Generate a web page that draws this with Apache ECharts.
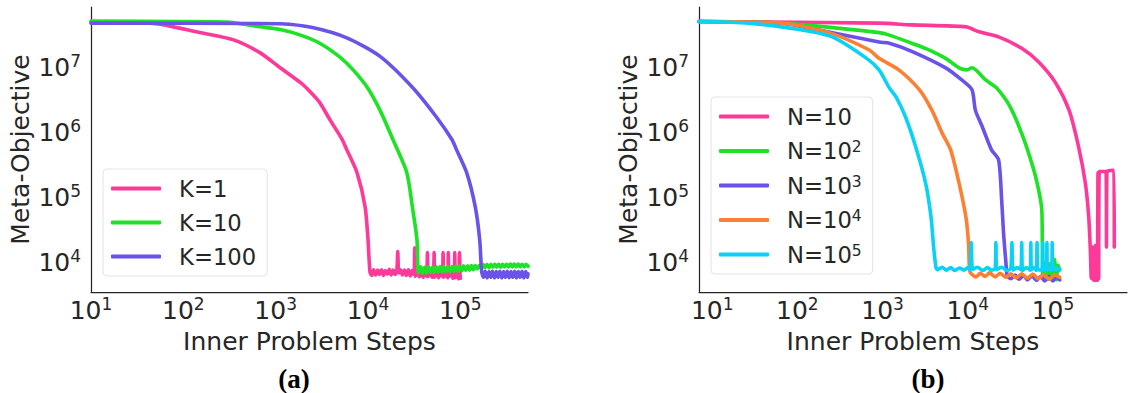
<!DOCTYPE html>
<html>
<head>
<meta charset="utf-8">
<script src="https://cdn.jsdelivr.net/npm/echarts@6/dist/echarts.min.js"></script>
<style>
html, body { margin: 0; padding: 0; background: #fff; }
#chart { width: 1130px; height: 393px; }
</style>
</head>
<body>
<div id="chart"></div>
<script>
// (a) meta-objective vs inner steps, unroll length K
var kNames = ['K=1', 'K=10', 'K=100'];
var kOne = [[10, 5.0e7], [44, 4.9e7], [150, 3.5e7], [350, 2.7e7], [680, 1.7e7], [1120, 1.0e7], [1860, 5.9e6],
  [2350, 4.3e6], [3000, 2.9e6], [3900, 1.55e6], [5250, 7.8e5], [5900, 5.4e5], [7600, 2.4e5], [9300, 7.1e4],
  [10000, 2.2e4], [10500, 7.0e3], [11000, 6.2e3], [11500, 7.6e3], [12100, 6.3e3], [12700, 7.5e3], [13300, 6.4e3],
  [14000, 7.6e3], [14700, 6.2e3], [15400, 7.4e3], [16200, 6.5e3], [17000, 7.7e3], [17800, 6.3e3], [18700, 7.5e3],
  [19600, 6.4e3], [20500, 7.4e3], [21000, 1.45e4], [21500, 6.8e3], [22500, 7.6e3], [23600, 6.3e3], [24800, 7.5e3],
  [26000, 6.2e3], [27300, 7.6e3], [28700, 6.1e3], [30100, 7.4e3], [31500, 6.4e3], [32000, 1.65e4], [32600, 6.0e3],
  [34200, 7.4e3], [35900, 5.9e3], [37700, 7.3e3], [39600, 5.8e3], [41600, 7.3e3], [43200, 6.0e3], [44000, 1.4e4],
  [44800, 6.0e3], [47000, 7.2e3], [49400, 5.8e3], [51300, 7.0e3], [52000, 1.4e4], [52800, 5.8e3], [55400, 7.2e3],
  [58200, 5.7e3], [61000, 7.1e3], [64000, 6.0e3], [65000, 1.4e4], [66000, 5.8e3], [69300, 7.1e3], [72800, 5.7e3],
  [74000, 1.4e4], [75300, 6.0e3], [79000, 7.2e3], [83000, 5.6e3], [86000, 7.0e3], [87000, 1.4e4], [88000, 5.7e3],
  [92000, 7.0e3], [95500, 5.5e3], [98000, 1.4e4], [99000, 6.5e3], [100000, 5.6e3]];
var kTen = [[10, 5.3e7], [100, 5.2e7], [295, 5.1e7], [680, 4.3e7], [1120, 3.9e7], [1860, 3.2e7], [3000, 2.4e7],
  [5000, 1.45e7], [6900, 9.3e6], [9800, 5.0e6], [13500, 2.2e6], [18600, 7.8e5], [26300, 2.4e5], [30200, 7.1e4],
  [33900, 2.2e4], [34700, 7.6e3], [35500, 6.8e3], [37200, 8.4e3], [39000, 6.7e3], [41000, 8.3e3], [43000, 6.8e3],
  [45100, 8.4e3], [47400, 6.9e3], [49700, 8.3e3], [52200, 6.9e3], [54800, 8.4e3], [57500, 7.0e3], [60400, 8.5e3],
  [63400, 7.0e3], [66600, 8.4e3], [69900, 7.1e3], [73400, 8.5e3], [77100, 7.1e3], [81000, 8.5e3], [85000, 7.2e3],
  [89300, 8.6e3], [93700, 7.2e3], [98400, 8.6e3], [103000, 7.3e3], [108000, 8.7e3], [114000, 7.4e3], [120000, 8.7e3],
  [126000, 7.5e3], [132000, 8.8e3], [138000, 7.6e3], [145000, 8.8e3], [152000, 7.8e3], [160000, 8.9e3],
  [168000, 8.0e3], [176000, 9.1e3], [185000, 8.2e3], [194000, 9.1e3], [204000, 8.2e3], [214000, 9.2e3],
  [225000, 8.3e3], [236000, 9.2e3], [248000, 8.3e3], [260000, 9.2e3], [273000, 8.3e3], [287000, 9.2e3],
  [301000, 8.4e3], [316000, 9.2e3], [332000, 8.4e3], [349000, 9.3e3], [366000, 8.4e3], [384000, 9.3e3],
  [403000, 8.4e3], [423000, 9.3e3], [444000, 8.4e3], [466000, 9.2e3], [490000, 8.4e3], [514000, 9.2e3], [540000, 8.6e3]];
var kHundred = [[10, 4.9e7], [600, 4.85e7], [1120, 4.8e7], [2500, 4.2e7], [5900, 2.9e7], [13500, 1.5e7], [30200, 5.0e6],
  [55000, 1.74e6], [81000, 7.8e5], [91000, 5.4e5], [117000, 2.4e5], [145000, 7.1e4], [162000, 2.2e4], [170000, 7.1e3],
  [178000, 5.8e3], [186000, 7.2e3], [195000, 5.7e3], [204000, 7.1e3], [213000, 5.8e3], [223000, 7.2e3], [234000, 5.7e3],
  [245000, 7.1e3], [256000, 5.8e3], [268000, 7.2e3], [281000, 5.7e3], [294000, 7.1e3], [308000, 5.8e3], [322000, 7.2e3],
  [337000, 5.7e3], [353000, 7.1e3], [370000, 5.8e3], [387000, 7.2e3], [405000, 5.7e3], [424000, 7.1e3], [444000, 5.8e3],
  [465000, 7.2e3], [487000, 5.7e3], [510000, 7.1e3], [534000, 5.8e3], [540000, 6.6e3]];

// (b) meta-objective vs inner steps, number of samples N
var nNames = ['N=10', 'N=10^2', 'N=10^3', 'N=10^4', 'N=10^5'];
var nOne = [[7, 5.2e7], [910, 4.9e7], [2200, 4.6e7], [9500, 4.3e7], [13500, 3.6e7], [23000, 3.0e7], [43000, 2.0e7],
  [68000, 1.23e7], [107000, 5.9e6], [155000, 2.2e6], [200000, 6.0e5], [240000, 1.66e5], [263000, 5.0e4],
  [275000, 1.5e4], [282000, 5.6e3], [290000, 1.7e4], [296000, 5.3e3], [302000, 1.6e4], [308000, 5.2e3],
  [314000, 1.8e4], [320000, 5.3e3], [326000, 1.6e4], [332000, 5.2e3], [338000, 2.4e5], [344000, 5.5e3],
  [350000, 2.5e5], [420000, 2.5e5], [425000, 1.7e4], [430000, 2.5e5], [520000, 2.6e5], [525000, 1.7e4]];
var nTwo = [[7, 5.2e7], [66, 4.9e7], [910, 3.5e7], [1200, 3.2e7], [2200, 2.4e7], [3500, 1.9e7], [5500, 1.4e7],
  [7900, 1.0e7], [9800, 9.3e6], [11200, 1.0e7], [16200, 6.5e6], [21400, 5.0e6], [28000, 3.2e6], [33000, 2.2e6],
  [40000, 1.23e6], [49000, 6.0e5], [63000, 2.0e5], [74000, 6.3e4], [75000, 1.95e4], [76000, 5.9e3], [80000, 6.0e3],
  [84000, 1.05e4], [88000, 5.4e3], [93000, 9.5e3], [98000, 5.2e3], [104000, 1.1e4], [110000, 5.3e3],
  [115000, 9.0e3], [120000, 7.5e3]];
var nThree = [[7, 5.2e7], [66, 4.9e7], [166, 3.9e7], [910, 2.5e7], [1200, 2.4e7], [2200, 1.8e7], [5500, 1.0e7],
  [8500, 6.5e6], [11200, 4.6e6], [12300, 2.2e6], [14800, 1.23e6], [19000, 5.4e5], [23000, 3.8e5], [25000, 9.1e4],
  [26300, 2.8e4], [28000, 1.0e4], [29000, 6.2e3], [32000, 5.5e3], [36000, 6.3e3], [40000, 5.4e3], [45000, 6.2e3],
  [50000, 5.3e3], [57000, 6.1e3], [64000, 5.2e3], [72000, 6.0e3], [80000, 5.1e3], [90000, 6.0e3], [100000, 5.1e3],
  [110000, 5.9e3], [120000, 5.3e3]];
var nFour = [[7, 5.2e7], [66, 4.9e7], [235, 3.5e7], [690, 1.9e7], [910, 1.4e7], [1550, 9.3e6], [2700, 4.6e6],
  [3800, 2.2e6], [5000, 9.8e5], [6300, 5.4e5], [7900, 1.66e5], [9500, 5.0e4], [10200, 1.95e4], [10500, 7.5e3],
  [11000, 6.6e3], [12500, 5.9e3], [14000, 6.7e3], [16000, 6.0e3], [18000, 6.8e3], [21000, 5.9e3], [24000, 6.7e3],
  [28000, 5.8e3], [32000, 6.6e3], [37000, 5.7e3], [43000, 6.6e3], [50000, 5.6e3], [58000, 6.5e3], [67000, 5.5e3],
  [78000, 6.4e3], [90000, 5.4e3], [105000, 6.3e3], [120000, 5.8e3]];
var nFive = [[7, 5.2e7], [27, 4.9e7], [105, 3.9e7], [257, 3.0e7], [650, 1.4e7], [910, 9.3e6], [1200, 4.9e6],
  [1450, 3.5e6], [1860, 1.74e6], [2450, 6.0e5], [3200, 1.66e5], [3700, 5.0e4], [4000, 1.55e4], [4250, 8.1e3],
  [4400, 7.6e3], [5000, 8.3e3], [5600, 7.5e3], [6300, 8.2e3], [7000, 7.4e3], [8000, 8.1e3], [9000, 7.5e3],
  [10000, 8.2e3], [10600, 7.6e3], [11000, 2.0e4], [11400, 7.7e3], [13000, 8.3e3], [15000, 7.4e3], [17000, 8.2e3],
  [19000, 7.5e3], [21000, 8.0e3], [21400, 2.0e4], [21800, 7.6e3], [25000, 8.3e3], [29000, 7.4e3], [32000, 8.0e3],
  [33000, 2.0e4], [34000, 7.5e3], [38000, 8.2e3], [42000, 7.6e3], [43000, 2.0e4], [44000, 7.4e3], [49000, 8.2e3],
  [54000, 7.5e3], [55000, 2.0e4], [56000, 7.6e3], [60000, 8.2e3], [64000, 7.4e3], [65000, 2.0e4], [66000, 8.0e3],
  [70000, 7.5e3], [75000, 7.8e3], [76000, 2.0e4], [77000, 7.4e3], [81000, 8.2e3], [84000, 7.5e3], [85000, 2.0e4],
  [86000, 7.5e3], [90000, 8.3e3], [94000, 7.4e3], [97000, 8.0e3], [98000, 2.0e4], [99000, 7.6e3], [105000, 8.2e3],
  [110000, 7.5e3], [115000, 8.1e3], [120000, 7.8e3]];

var pink = '#fd3a9a', green = '#1ee226', purple = '#6b52e8', orange = '#fd7f33', cyan = '#0ad2f5';
var ink = '#262626';
var font = 'DejaVu Sans';

var chart = echarts.init(document.getElementById('chart'), null, {renderer: 'svg'});

// 10^n tick labels, empty for the axis ends
function powLabel(v) {
    var p = Math.log10(v), e = Math.round(p);
    if (Math.abs(p - e) > 1e-6) return '';
    return '{b|10}{s|' + e + '}';
}
var tickRich = {
    b: {fontSize: 25, fontFamily: font, color: ink, lineHeight: 30},
    s: {fontSize: 17, fontFamily: font, color: ink, verticalAlign: 'top'}
};

function xAxis(idx, min, max) {
    return {
        type: 'log', logBase: 10, gridIndex: idx, min: min, max: max,
        name: 'Inner Problem Steps', nameLocation: 'middle', nameGap: 37,
        nameTextStyle: {fontSize: 25, fontFamily: font, color: ink},
        axisLine: {show: true, lineStyle: {color: ink, width: 1.25}},
        axisTick: {show: false},
        splitLine: {show: false},
        axisLabel: {formatter: powLabel, rich: tickRich, margin: 3, interval: 0}
    };
}
function yAxis(idx) {
    return {
        type: 'log', logBase: 10, gridIndex: idx, min: 3440, max: 8.7e7,
        name: 'Meta-Objective', nameLocation: 'middle', nameGap: 58,
        nameTextStyle: {fontSize: 25, fontFamily: font, color: ink},
        axisLine: {show: true, lineStyle: {color: ink, width: 1.25}},
        axisTick: {show: false},
        splitLine: {show: false},
        axisLabel: {formatter: powLabel, rich: tickRich, margin: 10, interval: 0}
    };
}
function line(name, data, color, idx) {
    return {
        name: name, type: 'line', data: data, xAxisIndex: idx, yAxisIndex: idx,
        color: color, showSymbol: false, symbol: 'none', animation: false,
        smooth: 0.25,
        lineStyle: {width: 3.6, color: color, cap: 'round', join: 'round'}
    };
}
function legendText(name) {
    var parts = name.split('^');
    return '{g|}{t|' + parts[0] + '}' + (parts[1] ? '{s|' + parts[1] + '}' : '');
}
function legend(names, left, top) {
    return {
        data: names, left: left, top: top, orient: 'vertical',
        icon: 'roundRect', itemWidth: 50, itemHeight: 4, itemGap: 11,
        padding: [8, 11, 8, 8],
        backgroundColor: 'rgba(255,255,255,0.8)', borderColor: '#e3e3e3', borderWidth: 1, borderRadius: 4,
        selectedMode: false,
        formatter: legendText,
        textStyle: {
            rich: {
                g: {width: 13},
                t: {fontSize: 22.7, fontFamily: font, color: ink, lineHeight: 24},
                s: {fontSize: 15.5, fontFamily: font, color: ink, verticalAlign: 'top'}
            }
        }
    };
}

var option = {
    backgroundColor: '#fff',
    animation: false,
    grid: [
        {left: 91, top: 7, width: 437, height: 285},
        {left: 699, top: 7, width: 429, height: 285}
    ],
    xAxis: [xAxis(0, 10, 5.4e5), xAxis(1, 7, 7.4e5)],
    yAxis: [yAxis(0), yAxis(1)],
    legend: [legend(kNames, 103, 169), legend(nNames, 711, 97)],
    series: [
        line(kNames[0], kOne, pink, 0),
        line(kNames[1], kTen, green, 0),
        line(kNames[2], kHundred, purple, 0),
        line(nNames[0], nOne, pink, 1),
        line(nNames[1], nTwo, green, 1),
        line(nNames[2], nThree, purple, 1),
        line(nNames[3], nFour, orange, 1),
        line(nNames[4], nFive, cyan, 1)
    ],
    graphic: [
        {type: 'text', x: 294, y: 379, style: {text: '(a)', font: 'bold 27px "Liberation Serif"', fill: '#000', align: 'center', verticalAlign: 'middle'}},
        {type: 'text', x: 928, y: 379, style: {text: '(b)', font: 'bold 27px "Liberation Serif"', fill: '#000', align: 'center', verticalAlign: 'middle'}}
    ]
};
chart.setOption(option);
</script>
</body>
</html>
